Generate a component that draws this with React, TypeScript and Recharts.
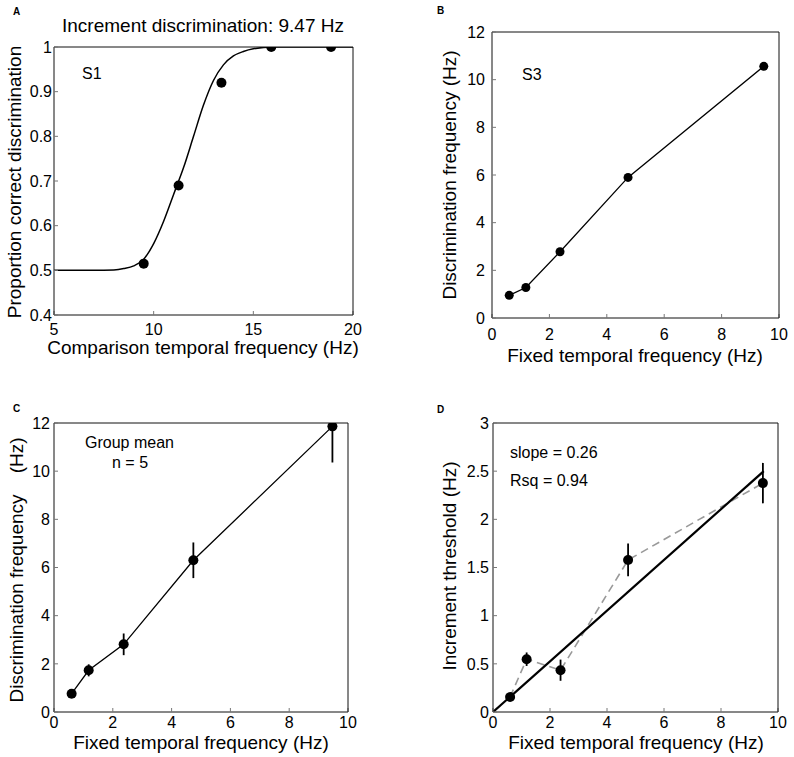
import React from "react";
import { ComposedChart, Line, Scatter, XAxis, YAxis, ErrorBar } from "recharts";

const FONT = '"Liberation Sans", Arial, Helvetica, sans-serif';

// A: psychometric function, subject S1
const curveHz = [5, 6, 7, 8, 8.5, 9, 9.5, 10, 10.5, 11, 11.5, 12, 12.5, 13, 13.5, 14, 14.5, 15, 16, 17, 18, 19, 20];
const curveProp = [0.5, 0.5, 0.5, 0.501, 0.504, 0.51, 0.525, 0.56, 0.61, 0.67, 0.73, 0.8, 0.87, 0.925, 0.96, 0.98, 0.99, 0.996, 1, 1, 1, 1, 1];
const comparisonHz = [9.5, 11.25, 13.4, 15.9, 18.9];
const propCorrect = [0.515, 0.69, 0.92, 1.0, 1.0];

// B, C, D: fixed temporal frequencies
const fixedHz = [0.6, 1.18, 2.37, 4.74, 9.47];
const s3Discrim = [0.95, 1.28, 2.78, 5.9, 10.56];
const groupDiscrim = [0.76, 1.73, 2.81, 6.3, 11.86];
const groupErrLow = [0, 0.25, 0.45, 0.74, 1.5];
const groupErrHigh = [0, 0.25, 0.45, 0.74, 0.14];
const threshold = [0.156, 0.548, 0.434, 1.578, 2.376];
const thresholdErr = [0.04, 0.07, 0.11, 0.17, 0.21];
const fitHz = [0, 9.5];
const fitThreshold = [0, 2.5];

// ticks
const ticksA_x = [5, 10, 15, 20];
const ticksA_y = [0.4, 0.5, 0.6, 0.7, 0.8, 0.9, 1];
const ticksHz = [0, 2, 4, 6, 8, 10];
const ticksDiscrim = [0, 2, 4, 6, 8, 10, 12];
const ticksThreshold = [0, 0.5, 1, 1.5, 2, 2.5, 3];

const zip = (xs: number[], ys: number[]) => xs.map((x, i) => ({ x, y: ys[i] }));

const curveData = zip(curveHz, curveProp);
const pointsA = zip(comparisonHz, propCorrect);
const pointsB = zip(fixedHz, s3Discrim);
const pointsC = fixedHz.map((x, i) => ({ x, y: groupDiscrim[i], err: [groupErrLow[i], groupErrHigh[i]] }));
const pointsD = fixedHz.map((x, i) => ({ x, y: threshold[i], err: thresholdErr[i] }));
const fitData = zip(fitHz, fitThreshold);

const tickText = { fontSize: 16, fill: "#000", fontFamily: FONT };
const boxLine = { stroke: "#111", strokeWidth: 1 };
const innerTick = { stroke: "#777" };

const dot = (r: number) => (p: any) => <circle cx={p.cx} cy={p.cy} r={r} fill="#000" />;

interface PanelProps {
  quad: [number, number, number, number];
  plot: [number, number, number, number];
  xDomain: [number, number];
  yDomain: [number, number];
  xTicks: number[];
  yTicks: number[];
  xGap: number;
  yGap: number;
  children: React.ReactNode;
}

function Panel({ quad, plot, xDomain, yDomain, xTicks, yTicks, xGap, yGap, children }: PanelProps) {
  const [qx, qy, qw, qh] = quad;
  const [x0, y0, x1, y1] = plot;
  const axisH = 40;
  return (
    <div style={{ position: "absolute", left: qx, top: qy }}>
      <ComposedChart
        width={qw}
        height={qh}
        margin={{ top: y0 - qy - 1, right: qx + qw - x1 - 1, bottom: qy + qh - y1 - axisH, left: 0 }}
      >
        <XAxis
          type="number"
          dataKey="x"
          domain={xDomain}
          ticks={xTicks}
          interval={0}
          allowDataOverflow
          height={axisH}
          tickSize={-4}
          tickMargin={xGap + 4}
          tick={tickText}
          axisLine={boxLine}
          tickLine={innerTick}
        />
        <XAxis
          xAxisId="top"
          orientation="top"
          type="number"
          domain={xDomain}
          ticks={xTicks}
          interval={0}
          allowDataOverflow
          height={1}
          tickSize={-4}
          tick={false}
          axisLine={boxLine}
          tickLine={innerTick}
        />
        <YAxis
          type="number"
          domain={yDomain}
          ticks={yTicks}
          interval={0}
          allowDataOverflow
          width={x0 - qx}
          tickSize={-4}
          tickMargin={yGap + 4}
          tick={tickText}
          axisLine={boxLine}
          tickLine={innerTick}
        />
        <YAxis
          yAxisId="right"
          orientation="right"
          type="number"
          domain={yDomain}
          ticks={yTicks}
          interval={0}
          allowDataOverflow
          width={1}
          tickSize={-4}
          tick={false}
          axisLine={boxLine}
          tickLine={innerTick}
        />
        {children}
      </ComposedChart>
    </div>
  );
}

function Txt({ x, y, size = 16, bold = false, children }: { x: number; y: number; size?: number; bold?: boolean; children: React.ReactNode }) {
  return (
    <div
      style={{
        position: "absolute",
        left: x,
        top: y,
        fontSize: size,
        lineHeight: `${Math.round(size * 1.15)}px`,
        fontWeight: bold ? 700 : 400,
        whiteSpace: "pre",
      }}
    >
      {children}
    </div>
  );
}

function XTitle({ cx, top, children }: { cx: number; top: number; children: React.ReactNode }) {
  return (
    <div style={{ position: "absolute", left: cx - 200, top, width: 400, textAlign: "center", fontSize: 19, lineHeight: "22px", whiteSpace: "pre" }}>
      {children}
    </div>
  );
}

function YTitle({ cx, cy, children }: { cx: number; cy: number; children: React.ReactNode }) {
  return (
    <div
      style={{
        position: "absolute",
        left: cx,
        top: cy,
        width: 400,
        textAlign: "center",
        fontSize: 19,
        lineHeight: "22px",
        whiteSpace: "pre",
        transform: "translate(-50%, -50%) rotate(-90deg)",
      }}
    >
      {children}
    </div>
  );
}

export default function App() {
  return (
    <div style={{ position: "absolute", left: 0, top: 0, width: 794, height: 757, background: "#fff", fontFamily: FONT, color: "#000", overflow: "hidden" }}>
      {/* A */}
      <Panel quad={[0, 0, 397, 400]} plot={[54, 47, 353, 315]} xDomain={[5, 20]} yDomain={[0.4, 1]} xTicks={ticksA_x} yTicks={ticksA_y} xGap={9} yGap={2}>
        <Line data={curveData} dataKey="y" type="monotone" stroke="#000" strokeWidth={1.5} dot={false} isAnimationActive={false} />
        <Scatter data={pointsA} dataKey="y" shape={dot(5)} isAnimationActive={false} />
      </Panel>

      {/* B */}
      <Panel quad={[397, 0, 397, 400]} plot={[492, 32, 779, 318]} xDomain={[0, 10]} yDomain={[0, 12]} xTicks={ticksHz} yTicks={ticksDiscrim} xGap={11} yGap={7}>
        <Line data={pointsB} dataKey="y" type="linear" stroke="#000" strokeWidth={1.3} dot={false} isAnimationActive={false} />
        <Scatter data={pointsB} dataKey="y" shape={dot(4.5)} isAnimationActive={false} />
      </Panel>

      {/* C */}
      <Panel quad={[0, 400, 397, 357]} plot={[54, 423, 348, 712]} xDomain={[0, 10]} yDomain={[0, 12]} xTicks={ticksHz} yTicks={ticksDiscrim} xGap={5} yGap={4}>
        <Line data={pointsC} dataKey="y" type="linear" stroke="#000" strokeWidth={1.3} dot={false} isAnimationActive={false} />
        <Scatter data={pointsC} dataKey="y" shape={dot(5)} isAnimationActive={false}>
          <ErrorBar dataKey="err" direction="y" width={0} stroke="#000" strokeWidth={1.8} />
        </Scatter>
      </Panel>

      {/* D */}
      <Panel quad={[397, 400, 397, 357]} plot={[493, 423, 778, 712]} xDomain={[0, 10]} yDomain={[0, 3]} xTicks={ticksHz} yTicks={ticksThreshold} xGap={5} yGap={4}>
        <Line data={pointsD} dataKey="y" type="linear" stroke="#999" strokeWidth={1.6} strokeDasharray="8 5" dot={false} isAnimationActive={false} />
        <Line data={fitData} dataKey="y" type="linear" stroke="#000" strokeWidth={2.2} dot={false} isAnimationActive={false} />
        <Scatter data={pointsD} dataKey="y" shape={dot(5)} isAnimationActive={false}>
          <ErrorBar dataKey="err" direction="y" width={0} stroke="#000" strokeWidth={1.8} />
        </Scatter>
      </Panel>

      {/* panel letters */}
      <Txt x={13} y={6} size={10} bold>A</Txt>
      <Txt x={437} y={5} size={10} bold>B</Txt>
      <Txt x={13} y={403} size={10} bold>C</Txt>
      <Txt x={437} y={404} size={10} bold>D</Txt>

      {/* title and annotations */}
      <XTitle cx={203} top={15}>Increment discrimination: 9.47 Hz</XTitle>
      <Txt x={82} y={65}>S1</Txt>
      <Txt x={522} y={66}>S3</Txt>
      <Txt x={85} y={434}>Group mean</Txt>
      <Txt x={112} y={454}>n = 5</Txt>
      <Txt x={510} y={444}>slope = 0.26</Txt>
      <Txt x={510} y={472}>Rsq = 0.94</Txt>

      {/* axis titles */}
      <XTitle cx={203} top={337}>Comparison temporal frequency (Hz)</XTitle>
      <XTitle cx={635} top={345}>Fixed temporal frequency (Hz)</XTitle>
      <XTitle cx={201} top={732}>Fixed temporal frequency (Hz)</XTitle>
      <XTitle cx={636} top={732}>Fixed temporal frequency (Hz)</XTitle>
      <YTitle cx={15} cy={182}>Proportion correct discrimination</YTitle>
      <YTitle cx={450} cy={175}>Discrimination frequency (Hz)</YTitle>
      <YTitle cx={17} cy={570}>{"Discrimination frequency    (Hz)"}</YTitle>
      <YTitle cx={450} cy={566}>Increment threshold (Hz)</YTitle>
    </div>
  );
}
